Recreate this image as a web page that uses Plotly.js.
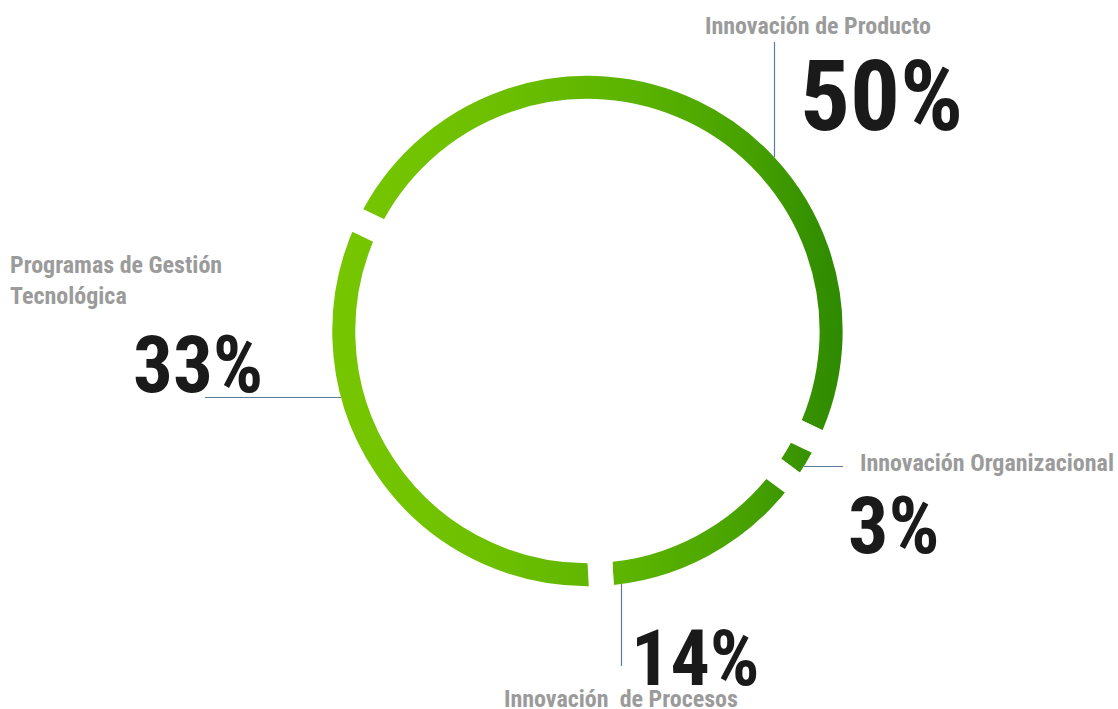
<!DOCTYPE html>
<html>
<head>
<meta charset="utf-8">
<script src="https://cdn.plot.ly/plotly-3.0.1.min.js"></script>
<style>
  html, body { margin: 0; padding: 0; background: #ffffff; }
  #chart { width: 1118px; height: 709px; }
</style>
</head>
<body>
<div id="chart"></div>
<script>
// ---- data ----
var categories = ['Innovación de Producto', 'Innovación Organizacional', 'Innovación\u00a0 de Procesos', 'Programas de Gestión<br>Tecnológica'];
var shares = [50, 3, 14, 33];
var shareLabels = shares.map(function (v) { return v + '%'; });

// ---- layout helpers (positions / styles) ----
var W = 1118, H = 709;
function px(x) { return x / W; }
function py(y) { return 1 - y / H; }

var FONT = "'Liberation Sans Narrow', 'Arial Narrow', 'Roboto Condensed', 'DejaVu Sans Condensed', sans-serif";
var nameColor = '#9b9b9b';
var pctColor = '#1a1a1a';
var leaderColor = '#5d7c9c';

// per-category label placement: [nameX, nameY, pctX, pctY, pctSize]
var placement = [
  [705, 25.5, 800, 96, 99],
  [860, 463, 848, 525.5, 80],
  [504, 699, 631, 658.4, 78],
  [10, 280, 133, 365, 79]
];

var annotations = [];
categories.forEach(function (name, i) {
  var p = placement[i];
  annotations.push({
    text: name, xref: 'paper', yref: 'paper', x: px(p[0]), y: py(p[1]),
    xanchor: 'left', yanchor: 'middle', align: 'left', showarrow: false,
    borderpad: 0, borderwidth: 0,
    font: { family: FONT, size: 24, color: nameColor, weight: 'bold' }
  });
  annotations.push({
    text: shareLabels[i], xref: 'paper', yref: 'paper', x: px(p[2]), y: py(p[3]),
    xanchor: 'left', yanchor: 'middle', showarrow: false,
    borderpad: 0, borderwidth: 0,
    font: { family: FONT, size: p[4], color: pctColor, weight: 'bold' }
  });
});

function seg(x0, y0, x1, y1) {
  return { type: 'line', xref: 'paper', yref: 'paper',
    x0: px(x0), y0: py(y0), x1: px(x1), y1: py(y1),
    line: { color: leaderColor, width: 1.2 }, layer: 'above' };
}
var shapes = [
  seg(774.5, 42, 774.5, 157),
  seg(804, 466.5, 843, 466.5),
  seg(621.5, 584, 621.5, 666),
  seg(205, 397.5, 341, 397.5)
];

var trace = {
  type: 'pie',
  values: shares,
  labels: categories,
  sort: false,
  direction: 'clockwise',
  rotation: 295.7,
  hole: 0.8207,
  textinfo: 'none',
  hoverinfo: 'none',
  showlegend: false,
  marker: {
    colors: ['#52ab00', '#359300', '#4aa500', '#70c100'],
    line: { color: '#ffffff', width: 25 }
  },
  domain: { x: [0.2860, 0.7649], y: [0.1556, 0.9107] }
};

var layout = {
  width: W, height: H,
  margin: { l: 0, r: 0, t: 0, b: 0 },
  paper_bgcolor: '#ffffff',
  plot_bgcolor: '#ffffff',
  showlegend: false,
  annotations: annotations,
  shapes: shapes
};

// horizontal gradient stops across the ring (fraction of ring width, colour)
var gradientStops = [
  [0.000, '#77c600'],
  [0.187, '#72c300'],
  [0.337, '#6cbf00'],
  [0.486, '#62b800'],
  [0.598, '#5ab300'],
  [0.803, '#46a100'],
  [0.930, '#348f00'],
  [1.000, '#2a8700']
];

function applyGradient(gd) {
  var svg = gd.querySelector('svg.main-svg');
  var paths = gd.querySelectorAll('g.slice path.surface');
  if (!svg || !paths.length) return;
  var minX = Infinity, maxX = -Infinity;
  paths.forEach(function (p) {
    var b = p.getBBox();
    minX = Math.min(minX, b.x);
    maxX = Math.max(maxX, b.x + b.width);
  });
  var NS = 'http://www.w3.org/2000/svg';
  var defs = svg.querySelector('defs');
  if (!defs) { defs = document.createElementNS(NS, 'defs'); svg.insertBefore(defs, svg.firstChild); }
  var grad = document.createElementNS(NS, 'linearGradient');
  grad.setAttribute('id', 'ringGradient');
  grad.setAttribute('gradientUnits', 'userSpaceOnUse');
  grad.setAttribute('x1', minX); grad.setAttribute('x2', maxX);
  grad.setAttribute('y1', 0); grad.setAttribute('y2', 0);
  gradientStops.forEach(function (s) {
    var st = document.createElementNS(NS, 'stop');
    st.setAttribute('offset', s[0]);
    st.setAttribute('stop-color', s[1]);
    grad.appendChild(st);
  });
  defs.appendChild(grad);
  paths.forEach(function (p) { p.style.fill = 'url(#ringGradient)'; });
}

var gd = document.getElementById('chart');
Plotly.newPlot(gd, [trace], layout, { staticPlot: true, displayModeBar: false }).then(applyGradient);
</script>
</body>
</html>
